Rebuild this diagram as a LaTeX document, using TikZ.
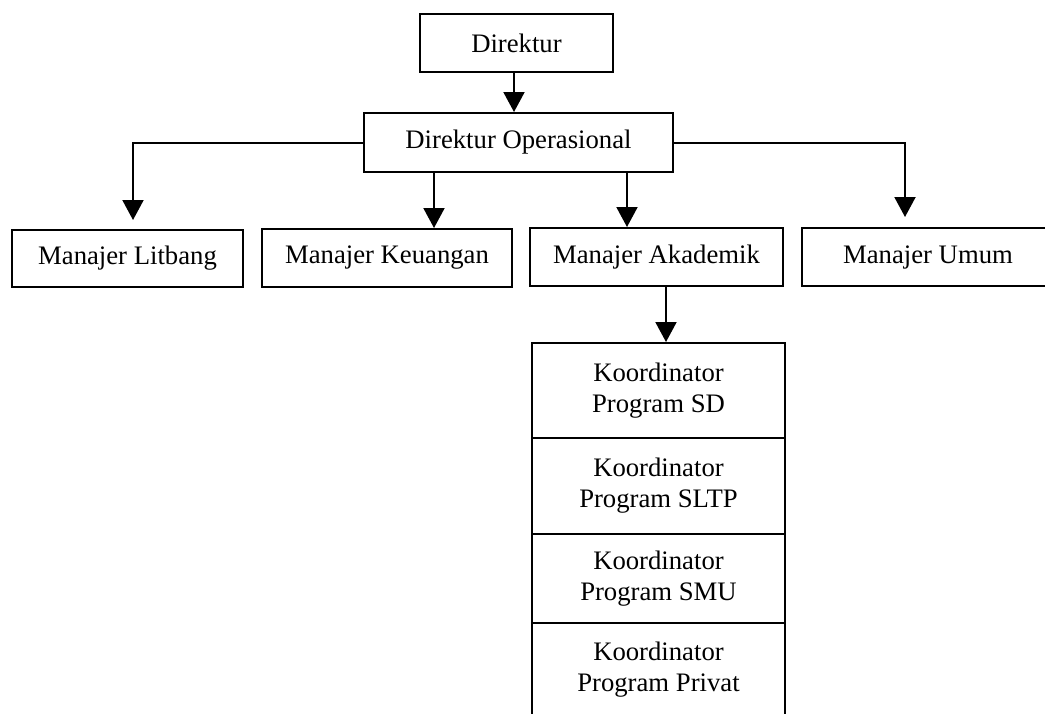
\documentclass[tikz,border=0pt]{standalone}
\usepackage{fontspec}
\setmainfont{Liberation Serif}
\usetikzlibrary{arrows.meta}
\begin{document}
\begin{tikzpicture}[x=1pt,y=-1pt,
  box/.style={draw,line width=2pt,inner sep=0pt,align=center,font=\fontsize{26.7}{31}\selectfont},
  arr/.style={line width=2pt,-{Triangle[width=21pt,length=20pt]}}]
\useasboundingbox (0,0) rectangle (1045,713);
\clip (0,0) rectangle (1045,713);
\node[box,minimum width=193pt,minimum height=58pt] (dir) at (516.5,43) {Direktur};
\node[box,minimum width=309pt,minimum height=59pt] (dop) at (518.5,142.5) {Direktur Operasional};
\node[box,minimum width=231pt,minimum height=57pt] (lit) at (127.5,258.5) {Manajer Litbang};
\node[box,minimum width=250pt,minimum height=58pt] (keu) at (387,258) {Manajer Keuangan};
\node[box,minimum width=253pt,minimum height=58pt] (aka) at (656.5,257) {Manajer Akademik};
\node[box,minimum width=252pt,minimum height=58pt] (umu) at (928,257) {Manajer Umum};
\node[box,minimum width=253pt,minimum height=95pt] (sd) at (658.5,390.5) {Koordinator\\Program SD};
\node[box,minimum width=253pt,minimum height=96pt] (sltp) at (658.5,486) {Koordinator\\Program SLTP};
\node[box,minimum width=253pt,minimum height=89pt] (smu) at (658.5,578.5) {Koordinator\\Program SMU};
\node[box,minimum width=253pt,minimum height=93pt] (priv) at (658.5,669.5) {Koordinator\\Program Privat};
\draw[arr] ([xshift=-2.5pt]dir.south) -- ([xshift=-2.5pt]dir.south |- dop.north);
\draw[arr,shorten >=9pt] (dop.west) -| ([xshift=5.5pt]lit.north);
\draw[arr] ([xshift=47pt]keu.north |- dop.south) -- ([xshift=47pt]keu.north);
\draw[arr] ([xshift=-29.5pt]aka.north |- dop.south) -- ([xshift=-29.5pt]aka.north);
\draw[arr,shorten >=10pt] (dop.east) -| ([xshift=-23pt]umu.north);
\draw[arr] ([xshift=9.5pt]aka.south) -- ([xshift=9.5pt]aka.south |- sd.north);
\end{tikzpicture}
\end{document}
